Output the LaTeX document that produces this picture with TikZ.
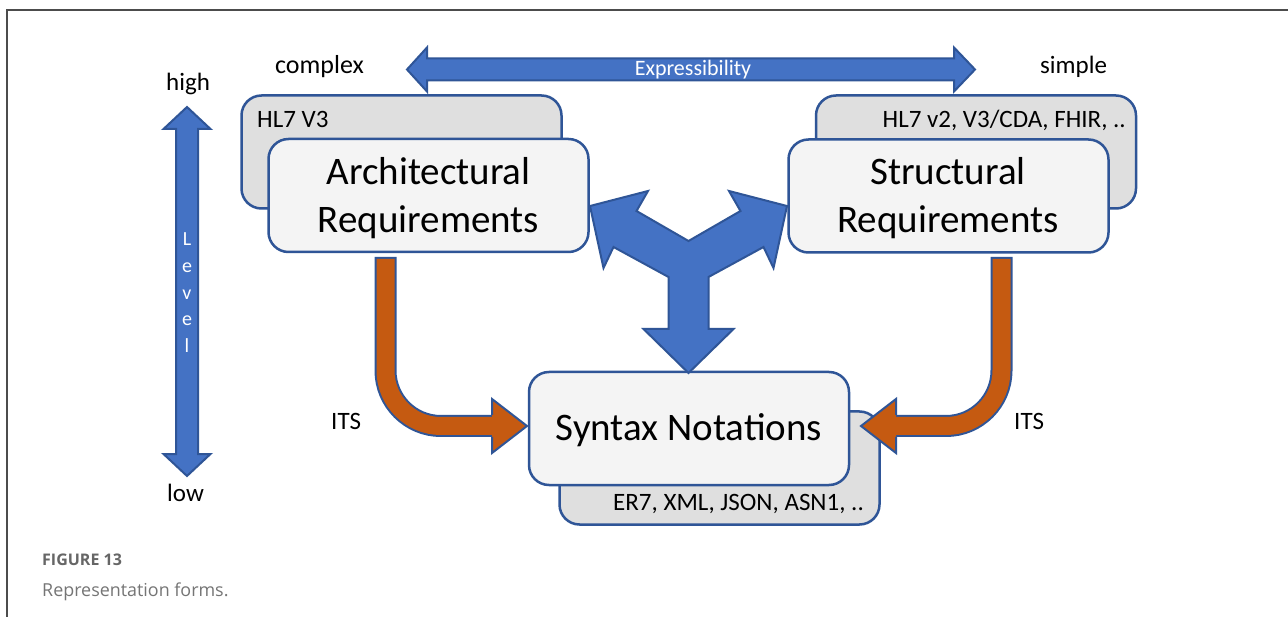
\documentclass[tikz,border=0pt]{standalone}
\usepackage{fontspec}
\setmainfont{Carlito}
\newfontfamily\capfont{Open Sans}
\definecolor{bfill}{HTML}{4472C4}
\definecolor{bline}{HTML}{2F5597}
\definecolor{ofill}{HTML}{C55A11}
\definecolor{frontfill}{HTML}{F4F4F4}
\definecolor{backfill}{HTML}{DFDFDF}
\definecolor{capgray}{HTML}{666666}
\begin{document}
\begin{tikzpicture}[x=1pt,y=-1pt,
  frontbox/.style={draw=bline, line width=2.5pt, fill=frontfill, rounded corners=20pt,
    minimum width=320pt, minimum height=113pt, inner sep=0pt},
  backbox/.style={frontbox, fill=backfill},
  blk/.style={fill=bfill, draw=bline, line width=2pt, line join=miter},
  bigtxt/.style={inner sep=0pt, font=\fontsize{39}{47}\selectfont},
  smalltxt/.style={inner sep=0pt, font=\fontsize{25}{30}\selectfont},
  lvl/.style={inner sep=0pt, text=white, font=\fontsize{20}{24}\selectfont, anchor=base},
  oshaftout/.style={draw=bline, line width=22pt, rounded corners=55.5pt},
  oshaftin/.style={draw=ofill, line width=18pt, rounded corners=55.5pt},
  ohead/.style={draw=bline, line width=2pt, line join=miter},
]
\useasboundingbox (0,0) rectangle (1288,617);
\fill[white] (0,0) rectangle (1288,617);
\draw[line width=1.5pt, black!70] (7,617) -- (7,10) -- (1288,10);

% boxes
\node[backbox] (archback) at (401.5,152) {};
\node[backbox] (structback) at (976,152) {};
\node[backbox] (synback) at (719.5,468) {};
\node[frontbox] (arch) at (428.5,195.5) {};
\node[frontbox] (struct) at (948.5,196) {};
\node[frontbox] (syn) at (689,428.5) {};

% texts in boxes
\node[smalltxt, anchor=base west] (hl7v3) at (257,128) {HL7 V3};
\node[smalltxt, anchor=base east] (hl7v2) at (1126,128) {HL7 v2, V3/CDA, FHIR, ..};
\node[smalltxt, anchor=base east] (er7) at (864,510) {ER7, XML, JSON, ASN1, ..};
\node[bigtxt, anchor=base] (a1) at (428.5,185) {Architectural};
\node[bigtxt, anchor=base] (a2) at (428.5,233) {Requirements};
\node[bigtxt, anchor=base] (s1) at (948,185) {Structural};
\node[bigtxt, anchor=base] (s2) at (948,233) {Requirements};
\node[bigtxt, anchor=base] (n1) at (689,441) {Syntax Notations};

% Expressibility arrow
\draw[blk] (407,69.5) -- (427,47.5) -- (427,58.5) -- (954,58.5) -- (954,47.5) -- (975,69.5)
  -- (954,91.5) -- (954,80.5) -- (427,80.5) -- (427,91.5) -- cycle;
\node[inner sep=0pt, text=white, font=\fontsize{22}{26}\selectfont, anchor=base] (expr) at (693,76) {Expressibility};
\node[smalltxt, anchor=base west, font=\fontsize{26}{30}\selectfont] (complex) at (275,74) {complex};
\node[smalltxt, anchor=base west] (simple) at (1040,74) {simple};

% Level arrow
\draw[blk] (187,107) -- (210.5,129) -- (198,129) -- (198,454) -- (210.5,454) -- (187,476)
  -- (163.5,454) -- (176,454) -- (176,129) -- (163.5,129) -- cycle;
\node[smalltxt, anchor=base west] (high) at (166,91) {high};
\node[smalltxt, anchor=base west] (low) at (167,501) {low};
\node[lvl] (lv1) at (187,246) {L};
\node[lvl] (lv2) at (187,272.7) {e};
\node[lvl] (lv3) at (187,299.4) {v};
\node[lvl] (lv4) at (187,326) {e};
\node[lvl] (lv5) at (187,352.8) {l};

% Y arrow
\draw[blk] (688.5,373) -- (643.5,329) -- (668.5,329) -- (668.5,277) -- (613.5,247)
  -- (603.5,268) -- (590,206) -- (648,191) -- (636.5,211) -- (688.5,241)
  -- (740.5,211) -- (729,191) -- (787,206) -- (773.5,268) -- (763.5,247)
  -- (708.5,277) -- (708.5,329) -- (733.5,329) -- cycle;

% left orange arrow
\draw[oshaftout] (385.5,257) -- (385.5,426) -- (492,426);
\fill[ofill] (492,399) -- (527,426) -- (492,453) -- cycle;
\draw[oshaftin] (385.5,259) -- (385.5,426) -- (495,426);
\draw[ohead] (492,415) -- (492,399) -- (527,426) -- (492,453) -- (492,437);

% right orange arrow
\draw[oshaftout] (1001.5,257) -- (1001.5,426) -- (896,426);
\fill[ofill] (896,399) -- (861,426) -- (896,453) -- cycle;
\draw[oshaftin] (1001.5,259) -- (1001.5,426) -- (893,426);
\draw[ohead] (896,415) -- (896,399) -- (861,426) -- (896,453) -- (896,437);

\node[smalltxt, anchor=base west] (itsl) at (331,429) {ITS};
\node[smalltxt, anchor=base west] (itsr) at (1014,429) {ITS};

% caption
\node[inner sep=0pt, anchor=base west, text=capgray, font=\capfont\bfseries\fontsize{16}{19}\selectfont] (fig) at (42,565) {FIGURE 13};
\node[inner sep=0pt, anchor=base west, text=capgray!90, font=\capfont\fontsize{17.9}{21}\selectfont] (cap) at (42,596) {Representation forms.};
\end{tikzpicture}
\end{document}
